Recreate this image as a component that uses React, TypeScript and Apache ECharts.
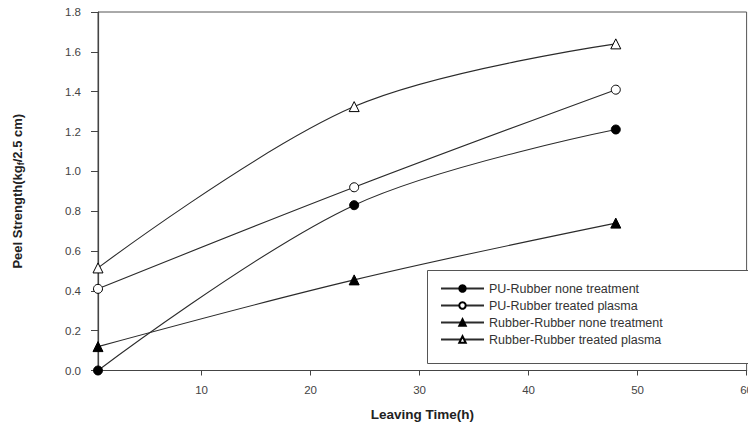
import React, { useEffect, useRef } from "react";
import * as echarts from "echarts";

const seriesNames = [
  "PU-Rubber none treatment",
  "PU-Rubber treated plasma",
  "Rubber-Rubber none treatment",
  "Rubber-Rubber treated plasma",
];
const times = [0.5, 24, 48];
const puNone = [0.0, 0.83, 1.21];
const puPlasma = [0.41, 0.92, 1.41];
const rrNone = [0.12, 0.455, 0.74];
const rrPlasma = [0.515, 1.325, 1.64];
const xTicks = [10, 20, 30, 40, 50, 60];

const FONT = "'Liberation Sans', Arial, sans-serif";
const INK = "#2b2b2b";

export default function App() {
  const ref = useRef<HTMLDivElement>(null);
  useEffect(() => {
    if (!ref.current) return;
    const chart = echarts.init(ref.current, undefined, { renderer: "svg" });
    const mk = (name: string, vals: number[], symbol: string, filled: boolean, size: number) => ({
      name,
      type: "line",
      smooth: 0.35,
      data: times.map((t, i) => [t, vals[i]]),
      symbol,
      symbolSize: size,
      showAllSymbol: true,
      lineStyle: { color: INK, width: 1.1 },
      itemStyle: { color: filled ? "#000" : "#fff", borderColor: "#000", borderWidth: 1 },
      z: 3,
    });
    chart.setOption({
      animation: false,
      backgroundColor: "#fff",
      textStyle: { fontFamily: FONT },
      grid: {
        left: 98,
        right: 9,
        top: 12,
        bottom: 62.5,
        show: true,
        borderColor: "#555",
        borderWidth: 1,
        backgroundColor: "transparent",
      },
      graphic: [
        {
          type: "rect",
          z: 10,
          shape: { x: 427.5, y: 270.5, width: 327, height: 93 },
          style: { fill: "#fff", stroke: "#555", lineWidth: 1 },
        },
      ],
      xAxis: {
        type: "value",
        min: 0.5,
        max: 60,
        name: "Leaving Time(h)",
        nameLocation: "middle",
        nameGap: 37,
        nameTextStyle: { fontFamily: FONT, fontWeight: "bold", fontSize: 13.5, color: "#222" },
        axisLine: { show: true, lineStyle: { color: "#444", width: 1.2 } },
        axisTick: { show: true, length: 5, customValues: xTicks, lineStyle: { color: "#444" } },
        axisLabel: {
          customValues: xTicks,
          margin: 13,
          fontSize: 11.5,
          color: "#444",
          fontFamily: FONT,
        },
        splitLine: { show: false },
      },
      yAxis: {
        type: "value",
        min: 0,
        max: 1.8,
        interval: 0.2,
        name: "{a|Peel Strength(kg}{s|f}{a|/2.5 cm)}",
        nameLocation: "middle",
        nameGap: 73,
        nameRotate: 90,
        nameTextStyle: {
          rich: {
            a: { fontFamily: FONT, fontWeight: "bold", fontSize: 13, color: "#222" },
            s: { fontFamily: FONT, fontWeight: "bold", fontSize: 9, color: "#222", verticalAlign: "bottom", padding: [6, 0, 0, 0] },
          },
        },
        axisLine: { show: true, lineStyle: { color: "#444", width: 1.2 } },
        axisTick: { show: true, length: 7, lineStyle: { color: "#444" } },
        axisLabel: {
          margin: 17,
          fontSize: 11.5,
          color: "#444",
          fontFamily: FONT,
          formatter: (v: number) => v.toFixed(1),
        },
        splitLine: { show: false },
      },
      legend: {
        left: 440,
        top: 282,
        z: 20,
        orient: "vertical",
        data: seriesNames,
        padding: 0,
        itemWidth: 43,
        itemHeight: 8,
        itemGap: 4,
        textStyle: { fontFamily: FONT, fontSize: 12.5, color: "#333" },
        selectedMode: false,
      },
      series: [
        mk(seriesNames[0], puNone, "circle", true, 9),
        mk(seriesNames[1], puPlasma, "circle", false, 9),
        mk(seriesNames[2], rrNone, "triangle", true, 10),
        mk(seriesNames[3], rrPlasma, "triangle", false, 10),
      ],
    });
    return () => chart.dispose();
  }, []);
  return <div ref={ref} style={{ width: 756, height: 433, margin: -8 }} />;
}
